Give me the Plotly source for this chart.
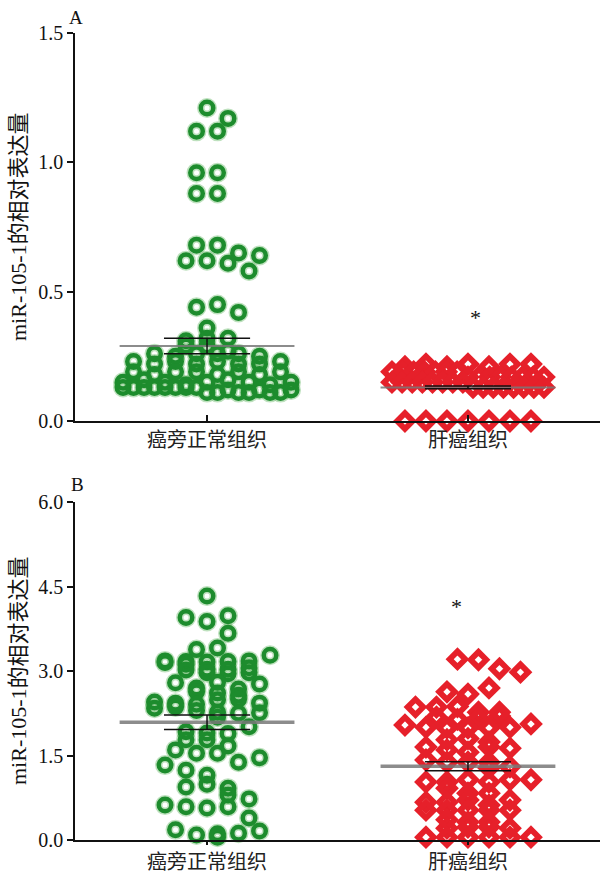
import plotly.graph_objects as go

W, H = 600, 876

categories = ["癌旁正常组织", "肝癌组织"]
y_title = "miR-105-1的相对表达量"

# ---------------- data ----------------
A_normal = [1.21, 1.17, 1.12, 1.12, 0.96, 0.96, 0.88, 0.88,
            0.65, 0.68, 0.68, 0.62, 0.62, 0.64, 0.61, 0.58,
            0.44, 0.42, 0.45, 0.36,
            0.29, 0.31, 0.32, 0.32, 0.29, 0.27,
            0.26, 0.25, 0.26, 0.26, 0.26, 0.25,
            0.23, 0.22, 0.23, 0.22, 0.23, 0.22, 0.22, 0.23,
            0.19, 0.18, 0.19, 0.19, 0.18, 0.19, 0.18, 0.19,
            0.15, 0.16, 0.15, 0.14, 0.15, 0.16, 0.15, 0.14, 0.15,
            0.13, 0.13, 0.13, 0.13, 0.13, 0.13, 0.13, 0.13,
            0.11, 0.11, 0.12, 0.11, 0.11, 0.12, 0.11, 0.11, 0.12]
A_tumor = [0.21, 0.22, 0.21, 0.22, 0.21, 0.22, 0.22,
           0.19, 0.19, 0.19, 0.19, 0.19, 0.19, 0.19,
           0.17, 0.17, 0.17, 0.17, 0.17, 0.17, 0.17, 0.17,
           0.15, 0.15, 0.15, 0.15, 0.15, 0.15, 0.15, 0.15,
           0.13, 0.13, 0.13, 0.13, 0.13, 0.13, 0.13, 0.13,
           0.00, 0.00, 0.00, 0.00, 0.00, 0.00, 0.00]
B_normal = [4.33,
            3.95, 3.88, 3.98,
            3.67,
            3.38, 3.41,
            3.18, 3.17, 3.16, 3.15, 3.12, 3.17, 3.18, 3.28,
            3.02, 3.03, 2.97, 2.95, 3.03, 2.97, 3.06,
            2.79, 2.70, 2.63, 2.61, 2.80, 2.57, 2.68, 2.77,
            2.45, 2.34, 2.43, 2.41, 2.49, 2.50, 2.36, 2.43,
            2.30, 2.27, 2.18, 2.25, 2.26,
            1.92, 1.90, 1.78, 1.78, 1.89, 2.01,
            1.60, 1.54, 1.38, 1.15, 1.33, 1.46, 1.54, 1.24, 1.67,
            0.94, 0.99, 0.92, 0.80, 0.73,
            0.62, 0.59, 0.57, 0.59, 0.39,
            0.18, 0.09, 0.05, 0.11, 0.12, 0.16]
B_tumor = [3.21, 3.04, 2.98, 3.20,
           2.63, 2.59, 2.70,
           2.36, 2.36, 2.37,
           2.27, 2.18, 2.14, 2.16, 2.20, 2.27,
           2.04, 2.00, 1.99, 1.99, 1.99, 2.00, 2.06,
           1.78, 1.80,
           1.65, 1.60, 1.56, 1.65, 1.63, 1.74,
           1.28, 1.42, 1.38, 1.38, 1.38, 1.30,
           1.03, 1.03, 1.07, 1.03, 1.07, 1.07, 0.92,
           0.67, 0.83, 0.67, 0.83, 0.71, 0.62, 0.71,
           0.53, 0.53, 0.53, 0.53, 0.53,
           0.21, 0.36, 0.23, 0.32, 0.23, 0.32, 0.21,
           0.05, 0.05, 0.05, 0.05, 0.05, 0.05]

A_mean = [0.29, 0.13]
A_sem = [0.03, 0.005]
B_mean = [2.09, 1.31]
B_sem = [0.13, 0.08]

A_ticks = [0.0, 0.5, 1.0, 1.5]
B_ticks = [0.0, 1.5, 3.0, 4.5, 6.0]
A_star = 0.40
B_star = 4.14

# ---------------- layout geometry ----------------
X_DOM = [0.125, 1.0]
X_RANGE = [-0.506, 1.506]
A_DOM = [0.5194, 0.9623]
B_DOM = [0.0411, 0.4269]
A_RANGE = [0, 1.5]
B_RANGE = [0, 6.0]

px_per_x = (X_DOM[1] - X_DOM[0]) * W / (X_RANGE[1] - X_RANGE[0])
ppu_A = (A_DOM[1] - A_DOM[0]) * H / (A_RANGE[1] - A_RANGE[0])
ppu_B = (B_DOM[1] - B_DOM[0]) * H / (B_RANGE[1] - B_RANGE[0])

GREEN = "#1d8c2d"
HALO = "rgba(70,170,70,0.35)"
RED = "#e6202a"


def swarm(vals, ppu, row_px, step_px, max_w, d_px):
    """Column-scatter layout: values close together share a row, spread horizontally."""
    n = len(vals)
    order = sorted(range(n), key=lambda i: -vals[i])
    rows = []
    for i in order:
        if rows and (vals[rows[-1][0]] - vals[i]) * ppu <= row_px:
            rows[-1].append(i)
        else:
            rows.append([i])
    placed = []
    off = [0.0] * n
    for r in rows:
        r = sorted(r)
        m = len(r)
        st = step_px if m < 2 else min(step_px, max_w / (m - 1))
        base = [(k - (m - 1) / 2) * st for k in range(m)]
        shifts = [0, 0.5, -0.5] if m >= 3 else [0, 0.5, -0.5, 1, -1, 1.5, -1.5, 2, -2]
        best = None
        for s in shifts:
            xs = [b + s * st for b in base]
            if max(abs(x) for x in xs) > max_w / 2 + 2:
                continue
            c = 0
            for k, i in enumerate(r):
                y = vals[i] * ppu
                for (px, py) in placed:
                    if (xs[k] - px) ** 2 + (y - py) ** 2 < d_px ** 2:
                        c += 1
            cost = c + 0.3 * abs(s) * m
            if best is None or cost < best[0]:
                best = (cost, xs)
        for k, i in enumerate(r):
            off[i] = best[1][k]
            placed.append((best[1][k], vals[i] * ppu))
    return [o / px_per_x for o in off]


fig = go.Figure()


def add_group(vals, cat, ppu, row_px, kind, xa, ya, max_w):
    if kind == "circle":
        offs = swarm(vals, ppu, row_px, 21, max_w, 16)
    else:
        offs = swarm(vals, ppu, row_px, 21, max_w, 18)
    xs = [cat + o for o in offs]
    common = dict(x=xs, y=vals, mode="markers", xaxis=xa, yaxis=ya,
                  cliponaxis=False, hoverinfo="skip")
    if kind == "circle":
        fig.add_trace(go.Scatter(**common, marker=dict(symbol="circle-open", size=12.5, color=HALO,
                                                       line=dict(width=7.5, color=HALO))))
        fig.add_trace(go.Scatter(**common, marker=dict(symbol="circle-open", size=12.5, color=GREEN,
                                                       line=dict(width=4.5, color=GREEN))))
    else:
        fig.add_trace(go.Scatter(**common, marker=dict(symbol="diamond-open", size=12, color=RED,
                                                       line=dict(width=5.8, color=RED))))


def add_stats(means, sems, xa, ya, grey_w):
    for cat, (m, s) in enumerate(zip(means, sems)):
        fig.add_trace(go.Scatter(x=[cat - 0.335, cat + 0.335], y=[m, m], mode="lines",
                                 xaxis=xa, yaxis=ya, hoverinfo="skip", cliponaxis=False,
                                 line=dict(color="rgba(120,120,120,0.85)", width=grey_w)))
        for v in (m - s, m + s):
            fig.add_trace(go.Scatter(x=[cat - 0.165, cat + 0.165], y=[v, v], mode="lines",
                                     xaxis=xa, yaxis=ya, hoverinfo="skip", cliponaxis=False,
                                     line=dict(color="#111111", width=1.5)))
        fig.add_trace(go.Scatter(x=[cat, cat], y=[m - s, m + s], mode="lines",
                                 xaxis=xa, yaxis=ya, hoverinfo="skip", cliponaxis=False,
                                 line=dict(color="#111111", width=1.5)))


add_group(A_normal, 0, ppu_A, 6.5, "circle", "x", "y", 168)
add_group(A_tumor, 1, ppu_A, 6.5, "diamond", "x", "y", 152)
add_stats(A_mean, A_sem, "x", "y", 2)

add_group(B_normal, 0, ppu_B, 6.8, "circle", "x2", "y2", 150)
add_group(B_tumor, 1, ppu_B, 6.8, "diamond", "x2", "y2", 130)
add_stats(B_mean, B_sem, "x2", "y2", 3.5)

serif = "Liberation Serif, Times New Roman, serif"
cjk = "Noto Sans CJK SC, sans-serif"

xcommon = dict(domain=X_DOM, range=X_RANGE, showline=True, linecolor="#111", linewidth=1.5,
               tickvals=[0, 1], ticktext=categories, showgrid=False, zeroline=False,
               tickfont=dict(family=cjk, size=20, color="#222"),
               tickcolor="#111", tickwidth=1.5, automargin=False, fixedrange=True)
ycommon = dict(showline=True, linecolor="#111", linewidth=1.5, ticks="outside", ticklen=6,
               tickcolor="#111", tickwidth=1.5, showgrid=False, zeroline=False,
               tickfont=dict(family=serif, size=20, color="#111"), tickformat=".1f",
               automargin=False, fixedrange=True)

fig.update_layout(
    width=W, height=H, margin=dict(l=0, r=0, t=0, b=0),
    paper_bgcolor="white", plot_bgcolor="white", showlegend=False,
    xaxis=dict(**xcommon, anchor="y", ticks="inside", ticklen=6),
    yaxis=dict(**ycommon, domain=A_DOM, range=A_RANGE, tickvals=A_ticks, anchor="x"),
    xaxis2=dict(**xcommon, anchor="y2", ticks="outside", ticklen=3),
    yaxis2=dict(**ycommon, domain=B_DOM, range=B_RANGE, tickvals=B_ticks, anchor="x2"),
)

ann_font = dict(family=serif + ", " + cjk, size=22, color="#111")
annotations = [
    dict(text=y_title, x=18 / W, y=(A_DOM[0] + A_DOM[1]) / 2, xref="paper", yref="paper",
         textangle=-90, showarrow=False, font=ann_font, xanchor="center", yanchor="middle"),
    dict(text=y_title, x=18 / W, y=(B_DOM[0] + B_DOM[1]) / 2, xref="paper", yref="paper",
         textangle=-90, showarrow=False, font=ann_font, xanchor="center", yanchor="middle"),
    dict(text="A", x=76 / W, y=1 - 17 / H, xref="paper", yref="paper", showarrow=False,
         font=dict(family=serif, size=19, color="#111"), xanchor="center", yanchor="middle"),
    dict(text="B", x=77 / W, y=1 - 485 / H, xref="paper", yref="paper", showarrow=False,
         font=dict(family=serif, size=19, color="#111"), xanchor="center", yanchor="middle"),
    dict(text="*", x=1, y=A_star, xref="x", yref="y", xshift=8, showarrow=False,
         font=dict(family=serif, size=22, color="#111")),
    dict(text="*", x=1, y=B_star, xref="x2", yref="y2", xshift=-11, showarrow=False,
         font=dict(family=serif, size=22, color="#111")),
]
fig.update_layout(annotations=annotations)

fig.write_html("out.html", config={"displayModeBar": False},
               post_script="document.body.style.margin='0px';document.body.style.padding='0px';")
